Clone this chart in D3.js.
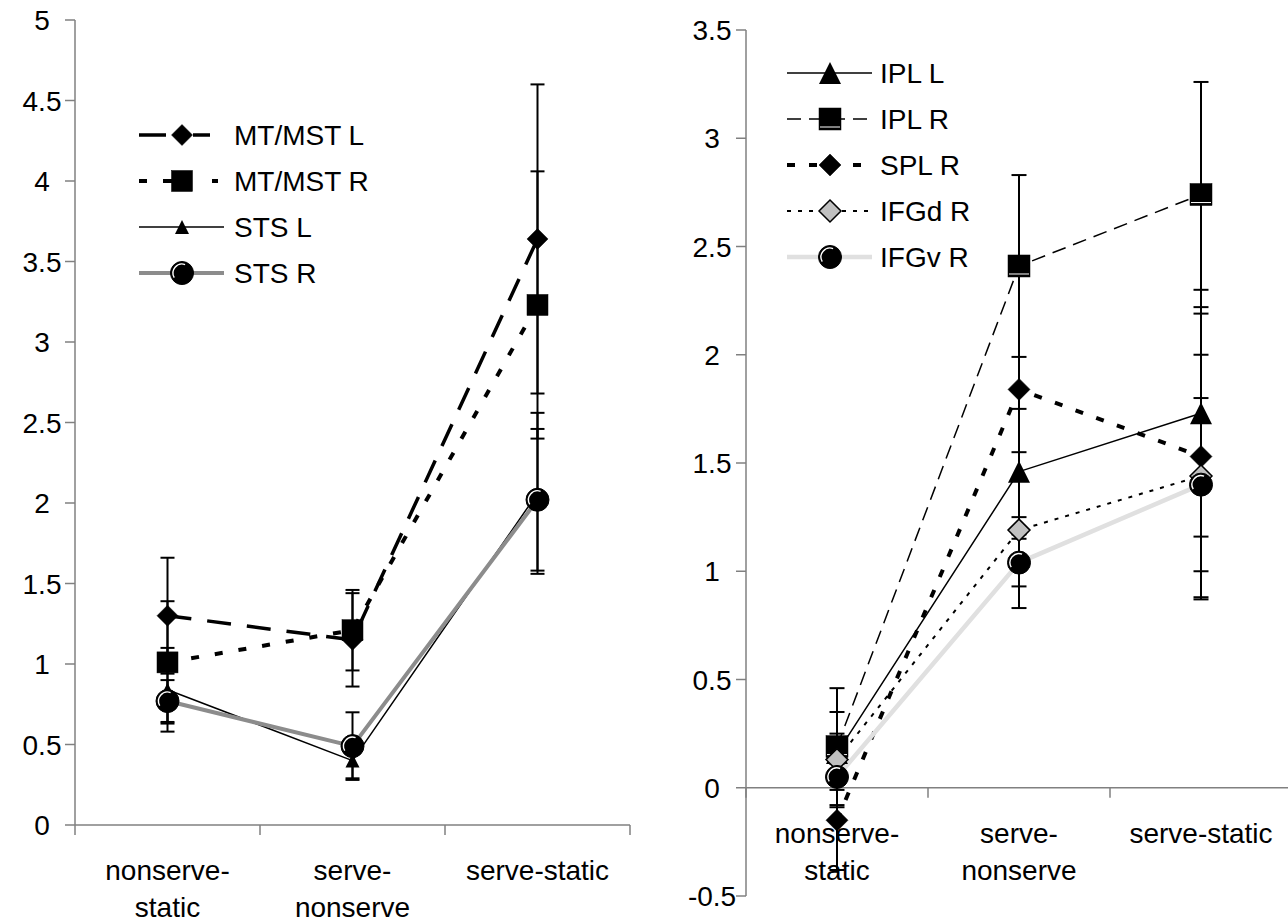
<!DOCTYPE html>
<html><head><meta charset="utf-8">
<script src="https://cdn.jsdelivr.net/npm/d3@7"></script>
<style>
html,body{margin:0;padding:0;background:#fff;}
svg{display:block;font-family:"Liberation Sans",Arial,sans-serif;}
</style></head>
<body>
<svg id="chart" width="1288" height="922"></svg>
<script>
// ---------- data ----------
const categories = ["nonserve-static", "serve-nonserve", "serve-static"];
const categoryLines = [["nonserve-", "static"], ["serve-", "nonserve"], ["serve-static"]];

// left panel
const leftNames = ["MT/MST L", "MT/MST R", "STS L", "STS R"];
const mtmstL = [1.30, 1.15, 3.64];
const mtmstLErr = [0.36, 0.29, 0.96];
const mtmstR = [1.01, 1.21, 3.23];
const mtmstRErr = [0.38, 0.25, 0.83];
const stsL = [0.84, 0.40, 2.06];
const stsLErr = [0.26, 0.11, 0.50];
const stsR = [0.77, 0.49, 2.02];
const stsRErr = [0.13, 0.21, 0.44];
const leftTicks = [0, 0.5, 1, 1.5, 2, 2.5, 3, 3.5, 4, 4.5, 5];
const leftTickLabels = ["0", "0.5", "1", "1.5", "2", "2.5", "3", "3.5", "4", "4.5", "5"];

// right panel
const rightNames = ["IPL L", "IPL R", "SPL R", "IFGd R", "IFGv R"];
const iplL = [0.16, 1.46, 1.73];
const iplLErr = [0.09, 0.29, 0.57];
const iplR = [0.19, 2.41, 2.74];
const iplRErr = [0.27, 0.42, 0.52];
const splR = [-0.15, 1.84, 1.53];
const splRErr = [0.23, 0.59, 0.66];
const ifgdR = [0.13, 1.19, 1.44];
const ifgdRErr = [0.22, 0.36, 0.56];
const ifgvR = [0.05, 1.04, 1.40];
const ifgvRErr = [0.06, 0.11, 0.40];
const rightTicks = [-0.5, 0, 0.5, 1, 1.5, 2, 2.5, 3, 3.5];
const rightTickLabels = ["-0.5", "0", "0.5", "1", "1.5", "2", "2.5", "3", "3.5"];

// ---------- styles ----------
const styleMap = {
  "MT/MST L": {stroke:"#000", width:3.5, dash:"24,16", marker:"diamond", size:21, fill:"#000",
               legDash:"27,27,17,200", legX2: 210},
  "MT/MST R": {stroke:"#000", width:4, dash:"8,16", marker:"square", size:21, fill:"#000",
               legDash:"8,16,9,40,6,200", legX2: 218},
  "STS L":    {stroke:"#000", width:1.5, dash:null, marker:"triangle", size:14, fill:"#000"},
  "STS R":    {stroke:"#8c8c8c", width:4, dash:null, marker:"circle", size:23, fill:"#000"},
  "IPL L":    {stroke:"#000", width:1.5, dash:null, marker:"triangle", size:22, fill:"#000"},
  "IPL R":    {stroke:"#000", width:1.5, dash:"14,8", marker:"squareline", size:22, fill:"#000"},
  "SPL R":    {stroke:"#000", width:4, dash:"8,14", marker:"diamond", size:22, fill:"#000"},
  "IFGd R":   {stroke:"#000", width:2, dash:"4,7", marker:"diamond", size:22, fill:"#c0c0c0"},
  "IFGv R":   {stroke:"#e0e0e0", width:4.5, dash:null, marker:"circle", size:23, fill:"#000"}
};

const svg = d3.select("#chart");
const FONT = 28;

function drawMarker(g, kind, size, fill, x, y) {
  const h = size / 2;
  if (kind === "diamond") {
    g.append("path").attr("d", `M${x},${y-h}L${x+h},${y}L${x},${y+h}L${x-h},${y}Z`)
      .attr("fill", fill).attr("stroke", "#000").attr("stroke-width", fill === "#000" ? 0.5 : 1.5);
  } else if (kind === "square" || kind === "squareline") {
    g.append("rect").attr("x", x-h).attr("y", y-h).attr("width", size).attr("height", size)
      .attr("fill", fill).attr("stroke", "#000").attr("stroke-width", 0.5);
    if (kind === "squareline") {
      g.append("line").attr("x1", x-h+1).attr("x2", x+h-1).attr("y1", y+h-3).attr("y2", y+h-3)
        .attr("stroke", "#fff").attr("stroke-width", 1);
    }
  } else if (kind === "triangle") {
    g.append("path").attr("d", `M${x},${y-h}L${x+h},${y+h}L${x-h},${y+h}Z`)
      .attr("fill", fill);
  } else if (kind === "circle") {
    g.append("circle").attr("cx", x).attr("cy", y).attr("r", h).attr("fill", fill)
      .attr("stroke", "#000").attr("stroke-width", 1);
    g.append("path").attr("transform", `translate(${x},${y})`)
      .attr("d", d3.arc()({innerRadius: h-3.2, outerRadius: h-1.8, startAngle: -2.1, endAngle: 0.35}))
      .attr("fill", "#fff");
  }
}

function panel(cfg) {
  const {names, values, errs, x0, x1, yDomain, yRange, ticks, tickLabels, labelX, capW, legend} = cfg;
  const x = d3.scaleBand().domain(categories).range([x0, x1]);
  const y = d3.scaleLinear().domain(yDomain).range(yRange);
  const g = svg.append("g");
  const axisColor = "#808080";
  const y0 = y(Math.max(yDomain[0], 0));

  // y axis
  g.append("line").attr("x1", x0).attr("x2", x0).attr("y1", y(yDomain[1])).attr("y2", y(yDomain[0]) + (yDomain[0] === 0 ? 10 : 0))
    .attr("stroke", axisColor).attr("stroke-width", 1.5);
  ticks.forEach((t, i) => {
    g.append("line").attr("x1", x0 - 10).attr("x2", x0).attr("y1", y(t)).attr("y2", y(t))
      .attr("stroke", axisColor).attr("stroke-width", 1.5);
    g.append("text").attr("x", labelX).attr("y", y(t) + 10).attr("text-anchor", "middle")
      .attr("font-size", FONT).attr("fill", "#000").text(tickLabels[i]);
  });
  // x axis
  g.append("line").attr("x1", x0).attr("x2", x1).attr("y1", y0).attr("y2", y0)
    .attr("stroke", axisColor).attr("stroke-width", 1.5);
  categories.forEach((c, i) => {
    const bx = x(c) + x.bandwidth();
    g.append("line").attr("x1", bx).attr("x2", bx).attr("y1", y0).attr("y2", y0 + 10)
      .attr("stroke", axisColor).attr("stroke-width", 1.5);
  });
  if (yDomain[0] < 0) {
    g.append("line").attr("x1", x0).attr("x2", x0).attr("y1", y0).attr("y2", y0 + 10)
      .attr("stroke", axisColor).attr("stroke-width", 1.5);
  }

  const cx = c => x(c) + x.bandwidth() / 2;

  // lines
  names.forEach((n, si) => {
    const s = styleMap[n];
    const line = d3.line().x((d, i) => cx(categories[i])).y(d => y(d));
    g.append("path").attr("d", line(values[si])).attr("fill", "none")
      .attr("stroke", s.stroke).attr("stroke-width", s.width)
      .attr("stroke-dasharray", s.dash).attr("stroke-linejoin", "round");
  });
  // error bars
  names.forEach((n, si) => {
    values[si].forEach((v, i) => {
      const e = errs[si][i];
      const xx = cx(categories[i]);
      g.append("line").attr("x1", xx).attr("x2", xx).attr("y1", y(v + e)).attr("y2", y(v - e))
        .attr("stroke", "#000").attr("stroke-width", 2);
      [v + e, v - e].forEach(t => {
        g.append("line").attr("x1", xx - capW / 2).attr("x2", xx + capW / 2).attr("y1", y(t)).attr("y2", y(t))
          .attr("stroke", "#000").attr("stroke-width", 2);
      });
    });
  });
  // markers
  names.forEach((n, si) => {
    const s = styleMap[n];
    values[si].forEach((v, i) => drawMarker(g, s.marker, s.size, s.fill, cx(categories[i]), y(v)));
  });
  // category labels
  categories.forEach((c, i) => {
    categoryLines[i].forEach((ln, k) => {
      g.append("text").attr("x", cx(c)).attr("y", y0 + 55 + k * 37).attr("text-anchor", "middle")
        .attr("font-size", FONT).attr("fill", "#000").text(ln);
    });
  });
  // legend
  names.forEach((n, si) => {
    const s = styleMap[n];
    const ly = legend.y + si * legend.step;
    g.append("line").attr("x1", legend.x1).attr("x2", s.legX2 || legend.x2).attr("y1", ly).attr("y2", ly)
      .attr("stroke", s.stroke).attr("stroke-width", s.width).attr("stroke-dasharray", s.legDash || s.dash);
    drawMarker(g, s.marker, s.size, s.fill, legend.mx, ly);
    g.append("text").attr("x", legend.tx).attr("y", ly + 10).attr("font-size", FONT)
      .attr("fill", "#000").text(n);
  });
}

panel({
  names: leftNames,
  values: [mtmstL, mtmstR, stsL, stsR],
  errs: [mtmstLErr, mtmstRErr, stsLErr, stsRErr],
  x0: 75, x1: 630, yDomain: [0, 5], yRange: [825, 20],
  ticks: leftTicks, tickLabels: leftTickLabels, labelX: 42, capW: 14,
  legend: {x1: 139, x2: 224, mx: 182, tx: 234, y: 135, step: 46}
});
panel({
  names: rightNames,
  values: [iplL, iplR, splR, ifgdR, ifgvR],
  errs: [iplLErr, iplRErr, splRErr, ifgdRErr, ifgvRErr],
  x0: 746, x1: 1292, yDomain: [-0.5, 3.5], yRange: [896, 30],
  ticks: rightTicks, tickLabels: rightTickLabels, labelX: 712, capW: 15,
  legend: {x1: 787, x2: 872, mx: 830, tx: 880, y: 73, step: 46}
});
</script>
</body></html>
